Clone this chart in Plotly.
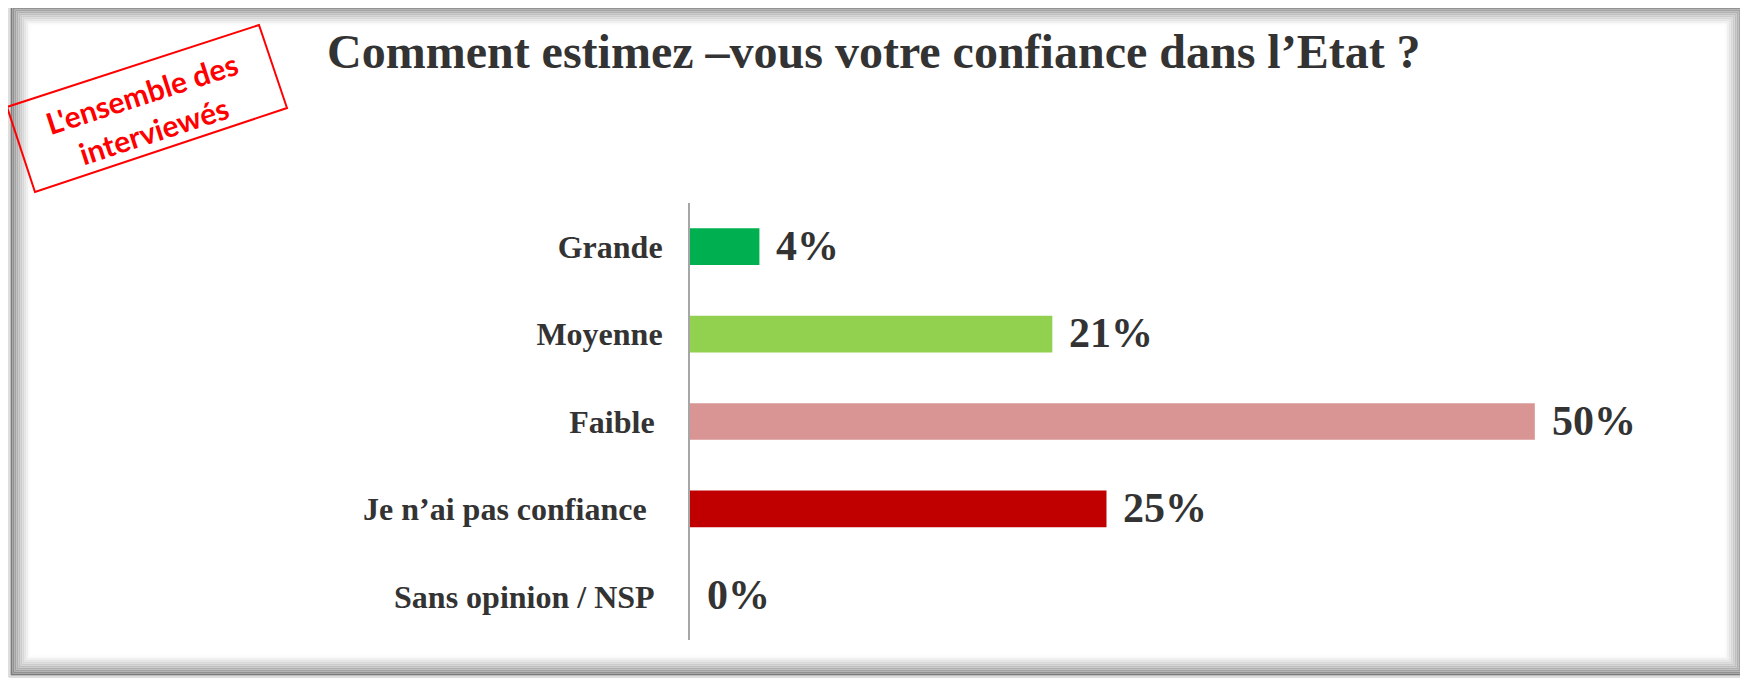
import plotly.graph_objects as go

# ---- data ----
categories = ["Grande", "Moyenne", "Faible", "Je n’ai pas confiance", "Sans opinion / NSP"]
values = [4.1, 21.4, 49.9, 24.6, 0]          # bar lengths
value_labels = ["4%", "21%", "50%", "25%", "0%"]  # labels as printed
label_pad = [0, 0, 1, 2, 1]  # trailing spaces as in the original labels
bar_colors = ["#00B050", "#92D050", "#D99594", "#C00000", "#7F7F7F"]
title_text = "Comment estimez –vous votre confiance dans l’Etat ?"
stamp_text = "L'ensemble des<br>interviewés"

W, H = 1748, 679
OFF = 8  # page body margin offset
ML = 690 - OFF
MT = 203 - OFF
PH = 437
PW = 1048
MB = H - MT - PH
MR = W - ML - PW


def px(x):
    # reference pixel -> paper coordinate
    return (x - OFF - ML) / PW


def py(y):
    return (H - MB - (y - OFF)) / PH


ticktext = [c + "\u00a0" * p for c, p in zip(categories, label_pad)]

fig = go.Figure()
fig.add_trace(go.Bar(
    x=values, y=categories, orientation="h",
    marker=dict(color=bar_colors, line=dict(width=0)),
    hoverinfo="skip",
))

# value labels
for c, v, t in zip(categories, values, value_labels):
    fig.add_annotation(
        x=v, y=c, xref="x", yref="y", text=t, showarrow=False,
        xanchor="left", yanchor="middle", xshift=15, yshift=1,
        font=dict(family="Liberation Serif", size=42, color="#333333", weight="bold"),
    )

# title
fig.add_annotation(
    x=px(874), y=py(52), xref="paper", yref="paper", text=title_text,
    showarrow=False, xanchor="center", yanchor="middle",
    font=dict(family="Liberation Serif", size=48, color="#333333", weight="bold"),
)

# stamp
fig.add_annotation(
    x=px(148), y=py(112), xref="paper", yref="paper", text=stamp_text,
    showarrow=False, xanchor="center", yanchor="middle", textangle=-18,
    font=dict(family="Lato", size=30, color="#FF0000", weight="bold"),
)
corners = [(7, 107), (259, 25), (287, 108), (35, 192)]
path = "M " + " L ".join(f"{px(a)},{py(b)}" for a, b in corners) + " Z"
shapes = [dict(type="path", xref="paper", yref="paper", path=path,
               line=dict(color="#FF0000", width=2), fillcolor="rgba(0,0,0,0)")]

# frame with soft inner shadow
shapes.append(dict(type="rect", xref="paper", yref="paper",
                   x0=px(9), x1=px(1746), y0=py(4), y1=py(677),
                   line=dict(color="#BDBDBD", width=1), fillcolor="rgba(0,0,0,0)", layer="below"))
steps = 10
for i in range(steps):
    d = 1.5 + 2 * i
    g = int(125 + (252 - 125) * (i / (steps - 1)) ** 0.8)
    col = f"rgb({g},{g},{g})"
    shapes.append(dict(type="rect", xref="paper", yref="paper",
                       x0=px(10 + d), x1=px(1745 - d), y0=py(5 + d), y1=py(676 - d),
                       line=dict(color=col, width=2), fillcolor="rgba(0,0,0,0)", layer="below"))

fig.update_layout(
    width=W, height=H,
    margin=dict(l=ML, r=MR, t=MT, b=MB, autoexpand=False),
    paper_bgcolor="white", plot_bgcolor="rgba(0,0,0,0)",
    showlegend=False, bargap=0.58, shapes=shapes,
    xaxis=dict(visible=False, range=[0, 61.9], fixedrange=True),
    yaxis=dict(
        type="category", categoryorder="array", categoryarray=categories,
        autorange="reversed", showgrid=False, zeroline=False,
        showline=True, linecolor="#A6A6A6", linewidth=2,
        ticks="outside", ticklen=19, tickcolor="rgba(0,0,0,0)",
        tickvals=categories, ticktext=ticktext,
        tickfont=dict(family="Liberation Serif", size=32, color="#333333", weight="bold"),
        automargin=False, fixedrange=True,
    ),
)

fig.write_html("out.html")
